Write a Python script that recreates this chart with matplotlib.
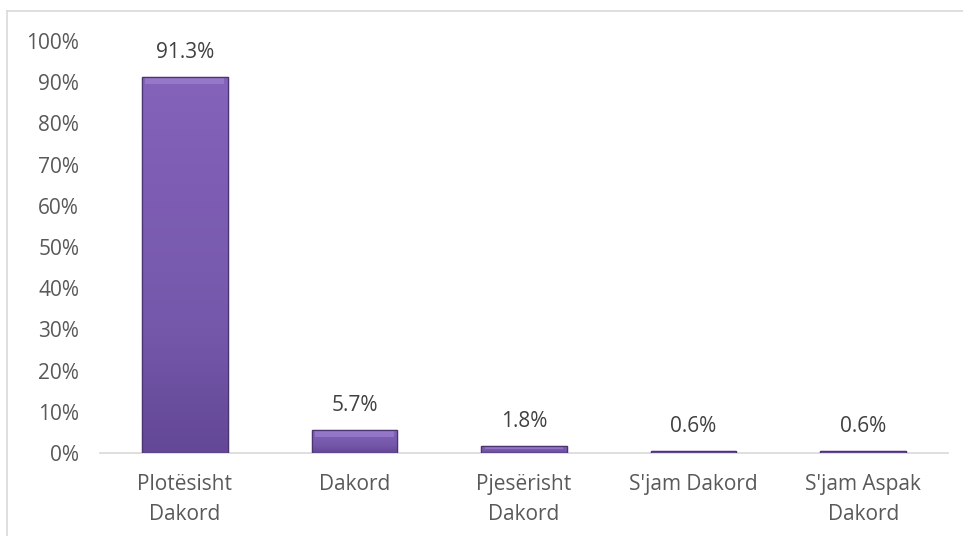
import matplotlib
matplotlib.use("Agg")
import matplotlib.pyplot as plt
import numpy as np
from matplotlib.patches import Rectangle
from matplotlib.colors import LinearSegmentedColormap
from matplotlib.ticker import PercentFormatter

categories = ["Plotësisht\nDakord", "Dakord", "Pjesërisht\nDakord", "S'jam Dakord", "S'jam Aspak\nDakord"]
values = [91.3, 5.7, 1.8, 0.6, 0.6]
labels = ["91.3%", "5.7%", "1.8%", "0.6%", "0.6%"]
yticks = [0, 10, 20, 30, 40, 50, 60, 70, 80, 90, 100]

plt.rcParams['font.family'] = ['Open Sans', 'DejaVu Sans']
W, H = 963, 536
FS = 15
fig = plt.figure(figsize=(W/100, H/100), dpi=100)
ax = fig.add_axes([100/W, 1-453/H, 848/W, 412/H])

x = np.arange(len(categories))
bars = ax.bar(x, values, width=0.505, color="#7a5cb0", edgecolor="#4a3570", linewidth=0.9, zorder=2)

cmap = LinearSegmentedColormap.from_list("p", ["#634896", "#7558aa", "#7c5db3", "#8464bb"])
grad = np.linspace(0, 1, 256).reshape(-1, 1)
px = 100 / 412.0  # data units per pixel vertically
for b in bars:
    bx, by, bw, bh = b.get_x(), b.get_y(), b.get_width(), b.get_height()
    im = ax.imshow(grad, cmap=cmap, aspect="auto", extent=[bx, bx+bw, by, by+bh],
                   origin="lower", zorder=2.5)
    im.set_clip_path(b)
    hb = min(7 * px, bh * 0.5)
    ax.add_patch(Rectangle((bx + 0.02, by + bh - hb), bw - 0.04, hb, facecolor="#a58ad6",
                           edgecolor="none", alpha=0.55, zorder=2.7))
    ax.add_patch(Rectangle((bx, by), bw, bh, fill=False, edgecolor="#4a3570", linewidth=0.9, zorder=3))

for xi, v, lab in zip(x, values, labels):
    ax.text(xi, v + 3.4, lab, ha="center", va="bottom", fontsize=FS, color="#404040")

ax.set_xlim(-0.5, len(categories) - 0.5)
ax.set_ylim(0, 100)
ax.set_yticks(yticks)
ax.yaxis.set_major_formatter(PercentFormatter(decimals=0))
ax.set_xticks(x)
ax.set_xticklabels(categories, fontsize=FS, color="#595959", linespacing=1.6)
ax.tick_params(axis="y", labelsize=FS, labelcolor="#595959", length=0, pad=15)
ax.tick_params(axis="x", length=0, pad=15)
for s in ["top", "right", "left"]:
    ax.spines[s].set_visible(False)
ax.spines["bottom"].set_color("#d9d9d9")
ax.spines["bottom"].set_linewidth(1.2)
ax.spines["bottom"].set_zorder(1)

fig.add_artist(plt.Line2D([6.5/W, 6.5/W], [0, 1-10.5/H], color="#d9d9d9", linewidth=1.2))
fig.add_artist(plt.Line2D([6.5/W, 1], [1-10.5/H, 1-10.5/H], color="#d9d9d9", linewidth=1.2))

fig.savefig("out.png", dpi=100)
